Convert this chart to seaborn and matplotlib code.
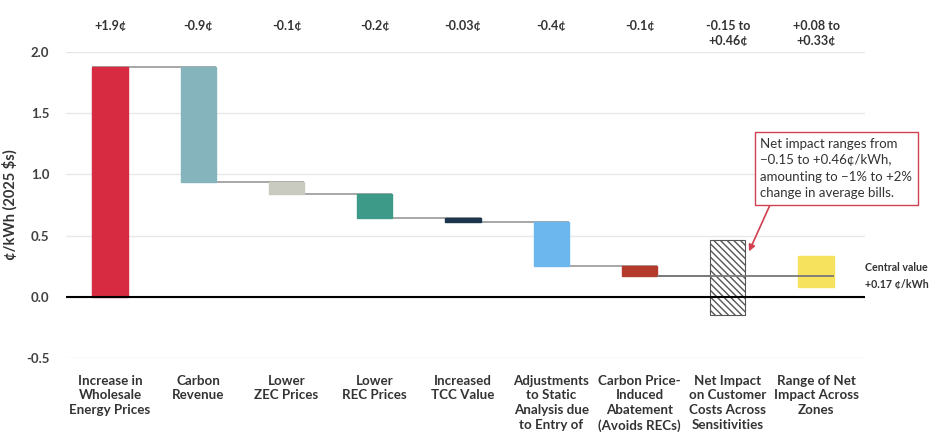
import numpy as np
import matplotlib
matplotlib.use("Agg")
import matplotlib.pyplot as plt
import seaborn as sns

# categories (x tick labels)
categories = [
    "Increase in\nWholesale\nEnergy Prices",
    "Carbon\nRevenue",
    "Lower\nZEC Prices",
    "Lower\nREC Prices",
    "Increased\nTCC Value",
    "Adjustments\nto Static\nAnalysis due\nto Entry of",
    "Carbon Price-\nInduced\nAbatement\n(Avoids RECs)",
    "Net Impact\non Customer\nCosts Across\nSensitivities",
    "Range of Net\nImpact Across\nZones",
]
# waterfall steps (c/kWh)
steps = [1.88, -0.94, -0.10, -0.20, -0.03, -0.36, -0.08]
# ranges for the last two bars
range_low = [-0.15, 0.08]
range_high = [0.46, 0.33]
central_value = 0.17
top_labels = ["+1.9¢", "-0.9¢", "-0.1¢", "-0.2¢", "-0.03¢", "-0.4¢", "-0.1¢",
              "-0.15 to\n+0.46¢", "+0.08 to\n+0.33¢"]
bar_colors = ["#D62B40", "#86B4BD", "#C9CAC0", "#3E9A88", "#1E3550",
              "#6CB8EE", "#B43A2B", "white", "#F6E25C"]

sns.set_theme(style="white")
plt.rcParams["font.family"] = ["Lato", "DejaVu Sans"]

# bottoms/heights for the bars
levels = np.cumsum(steps)
starts = np.concatenate([[0], levels[:-1]])
bottoms = list(np.minimum(starts, levels)) + range_low
heights = list(np.abs(steps)) + [h - l for h, l in zip(range_high, range_low)]

fig = plt.figure(figsize=(9.33, 4.36), dpi=100)
ax = fig.add_axes([0.0707, 0.179, 0.856, 0.702])

w = 0.4
sns.barplot(x=categories, y=heights, bottom=bottoms, color="white",
            width=w, ax=ax, zorder=3)
for patch, c in zip(ax.patches, bar_colors):
    patch.set_facecolor(c)
    patch.set_edgecolor(c)
hatched = ax.patches[7]
hatched.set_hatch("\\\\\\\\\\")
hatched.set_edgecolor("#555555")
hatched.set_linewidth(0.8)

# connector lines
ax.hlines(levels[0], -w / 2, 1 + w / 2, color="#A0A0A0", lw=1.3, zorder=2)
for i, lv in enumerate(levels[1:], start=1):
    ax.hlines(lv, i - w / 2, i + 1 + w / 2, color="#A0A0A0", lw=1.3, zorder=2)
ax.hlines(central_value, 6 + w / 2, 8 + w / 2, color="#777777", lw=1.3, zorder=4)

ax.set_xlim(-0.5, 8.55)
ax.set_ylim(-0.5, 2.0)
ax.set_yticks(np.arange(-0.5, 2.01, 0.5))
ax.yaxis.set_major_formatter(matplotlib.ticker.FormatStrFormatter("%.1f"))
ax.grid(axis="y", color="#E8E8E8", lw=1, zorder=0)
ax.axhline(0, color="black", lw=1.5, zorder=5)
sns.despine(ax=ax, left=True, bottom=True)
ax.tick_params(axis="y", length=0, pad=12, labelsize=9.5, labelcolor="#404040")
ax.tick_params(axis="x", length=0, pad=12)
for lbl in ax.get_xticklabels():
    lbl.set_fontweight("bold")
    lbl.set_fontsize(9.6)
    lbl.set_color("#333333")
    lbl.set_va("top")
    lbl.set_linespacing(1.28)
for lbl in ax.get_yticklabels():
    lbl.set_fontweight("bold")
ax.set_ylabel("¢/kWh (2025 $s)", fontsize=10.5, fontweight="bold", color="#333333", labelpad=6)

trans = matplotlib.transforms.blended_transform_factory(ax.transData, ax.transAxes)
for i, t in enumerate(top_labels):
    ax.text(i, 1.105, t, transform=trans, ha="center", va="top", fontsize=9,
            fontweight="bold", color="#333333", linespacing=1.3)

ax.annotate("Net impact ranges from\n\u22120.15 to +0.46¢/kWh,\namounting to \u22121% to +2%\nchange in average bills.",
            xy=(7.24, 0.37), xytext=(7.37, 1.3), ha="left", va="top",
            fontsize=9.5, color="#333333", linespacing=1.45, annotation_clip=False,
            bbox=dict(boxstyle="square,pad=0.45", fc="white", ec="#D04050", lw=1),
            arrowprops=dict(arrowstyle="-|>", color="#D04050", lw=1.2,
                            relpos=(0.08, 0.0), shrinkA=0, shrinkB=0))

ax.text(8.555, central_value, "Central value\n+0.17 ¢/kWh", ha="left", va="center",
        fontsize=7.7, fontweight="bold", color="#333333", linespacing=1.6)

fig.savefig("out.png", dpi=100, facecolor="white")
